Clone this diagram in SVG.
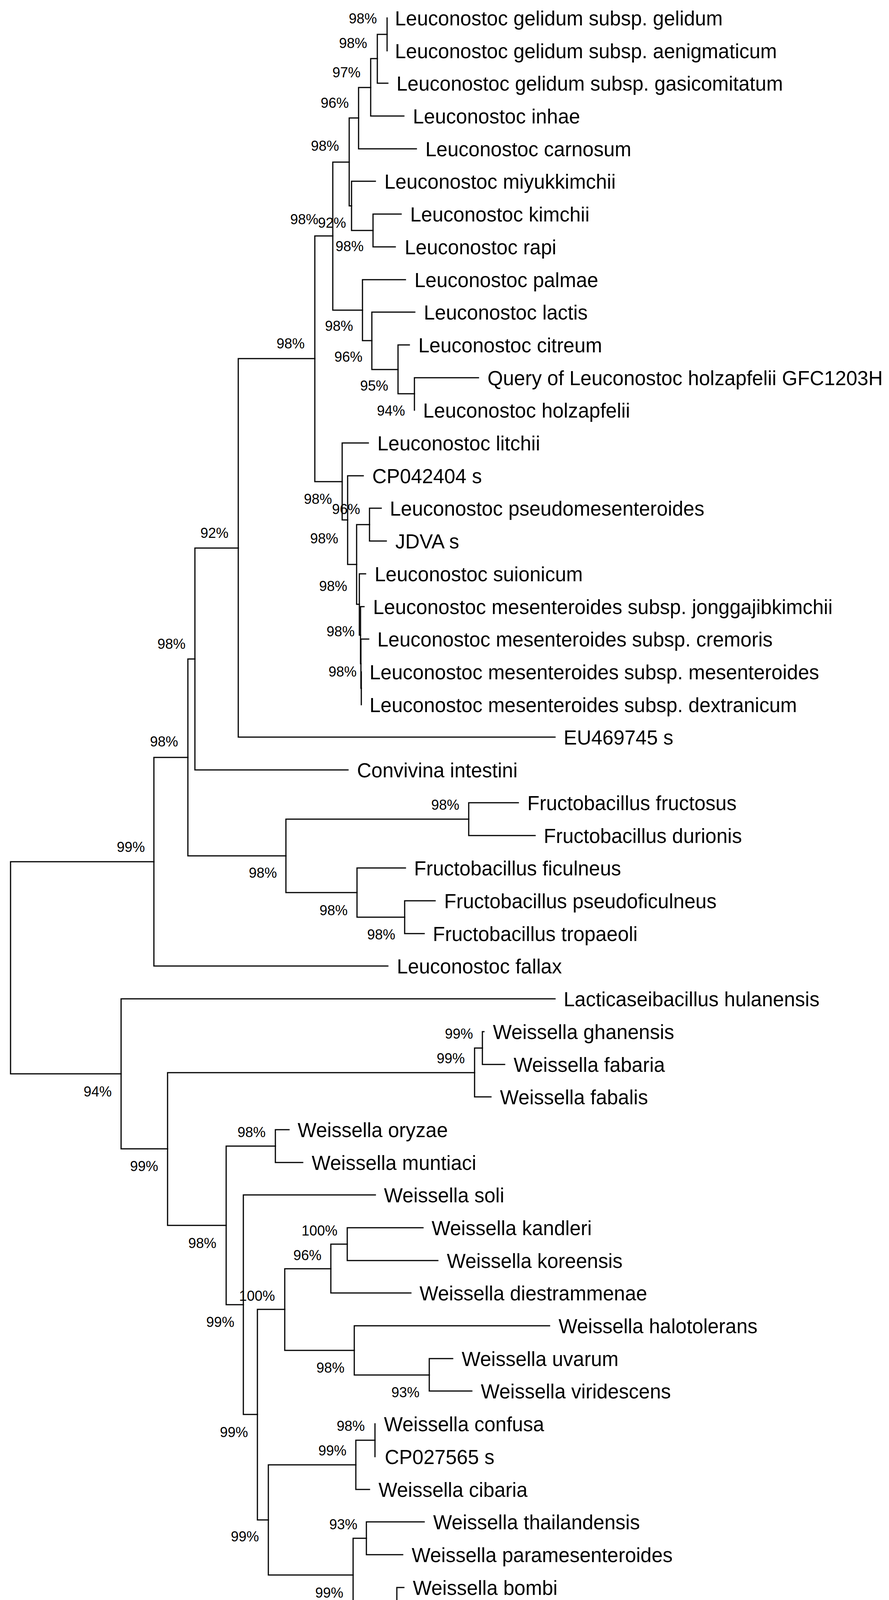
<svg xmlns="http://www.w3.org/2000/svg" width="2276" height="4528" viewBox="0 0 2276 4528">
<style>
.e{fill:none;stroke:#000;stroke-width:3;stroke-linecap:square}
.t{font-family:"Liberation Sans",Arial,sans-serif;font-size:51px;fill:#000}
.b{font-family:"Liberation Sans",Arial,sans-serif;font-size:36px;fill:#000;text-anchor:end}
.s{font-family:"Liberation Sans",Arial,sans-serif;font-size:37px;fill:#000;text-decoration:underline}
</style>
<rect width="2276" height="4528" fill="#fff"/>
<g id="connectors" class="e">
<path d="M991,46 V130"/>
<path d="M991,88 H966 V213 H993"/>
<path d="M966,150 H949 V297 H1034"/>
<path d="M949,224 H918 V381 H1066"/>
<path d="M1027,548 H955 V632 H1012"/>
<path d="M961,464 H900 V590 H955"/>
<path d="M918,302 H894 V527 H900"/>
<path d="M1225,967 H1061 V1050"/>
<path d="M1048,883 H1019 V1008 H1061"/>
<path d="M1062,799 H952 V946 H1019"/>
<path d="M1038,716 H928 V872 H952"/>
<path d="M894,415 H852 V794 H928"/>
<path d="M976,1301 H946 V1385 H989"/>
<path d="M925,1720 V1804"/>
<path d="M944,1636 H924 V1762 H925"/>
<path d="M932,1553 H923 V1699 H924"/>
<path d="M936,1469 H920 V1626 H923"/>
<path d="M946,1343 H913 V1547 H920"/>
<path d="M930,1218 H890 V1445 H913"/>
<path d="M943,1134 H876 V1331 H890"/>
<path d="M852,604 H806 V1233 H876"/>
<path d="M806,918 H610 V1887 H1421"/>
<path d="M610,1403 H499 V1971 H891"/>
<path d="M1327,2055 H1200 V2139 H1370"/>
<path d="M1114,2306 H1036 V2390 H1086"/>
<path d="M1038,2222 H914 V2348 H1036"/>
<path d="M1200,2097 H732 V2285 H914"/>
<path d="M499,1687 H481 V2191 H732"/>
<path d="M481,1939 H394 V2473 H993"/>
<path d="M1239,2641 H1235 V2725 H1292"/>
<path d="M1235,2683 H1215 V2808 H1257"/>
<path d="M740,2892 H705 V2976 H775"/>
<path d="M1083,3143 H889 V3227 H1121"/>
<path d="M889,3185 H847 V3310 H1052"/>
<path d="M1159,3478 H1099 V3561 H1208"/>
<path d="M1407,3394 H907 V3520 H1099"/>
<path d="M847,3248 H729 V3457 H907"/>
<path d="M960,3645 V3729"/>
<path d="M960,3687 H911 V3813 H946"/>
<path d="M1086,3896 H938 V3980 H1031"/>
<path d="M1071,4147 V4231 H1086"/>
<path d="M1034,4064 H1016 V4189 H1071"/>
<path d="M938,3938 H904 V4126 H1016"/>
<path d="M911,3750 H687 V4032 H904"/>
<path d="M729,3352 H659 V3891 H687"/>
<path d="M961,3059 H623 V3621 H659"/>
<path d="M705,2934 H579 V3340 H623"/>
<path d="M1215,2746 H429 V3137 H579"/>
<path d="M1421,2557 H310 V2941 H429"/>
<path d="M394,2206 H27 V2749 H310"/>
</g>
<g id="taxa" class="t">
<text id="n1" x="1011" y="65">Leuconostoc gelidum subsp. gelidum</text>
<text id="n2" x="1011" y="149">Leuconostoc gelidum subsp. aenigmaticum</text>
<text id="n3" x="1015" y="232">Leuconostoc gelidum subsp. gasicomitatum</text>
<text id="n4" x="1057" y="316">Leuconostoc inhae</text>
<text id="n5" x="1089" y="400">Leuconostoc carnosum</text>
<text id="n6" x="984" y="483">Leuconostoc miyukkimchii</text>
<text id="n7" x="1050" y="567">Leuconostoc kimchii</text>
<text id="n8" x="1036" y="651">Leuconostoc rapi</text>
<text id="n9" x="1061" y="735">Leuconostoc palmae</text>
<text id="n10" x="1085" y="818">Leuconostoc lactis</text>
<text id="n11" x="1071" y="902">Leuconostoc citreum</text>
<text id="n12" x="1248" y="986">Query of Leuconostoc holzapfelii GFC1203H</text>
<text id="n13" x="1083" y="1069">Leuconostoc holzapfelii</text>
<text id="n14" x="966" y="1153">Leuconostoc litchii</text>
<text id="n15" x="953" y="1237">CP042404 s</text>
<text id="n16" x="998" y="1320">Leuconostoc pseudomesenteroides</text>
<text id="n17" x="1012" y="1404">JDVA s</text>
<text id="n18" x="959" y="1488">Leuconostoc suionicum</text>
<text id="n19" x="955" y="1572">Leuconostoc mesenteroides subsp. jonggajibkimchii</text>
<text id="n20" x="966" y="1655">Leuconostoc mesenteroides subsp. cremoris</text>
<text id="n21" x="946" y="1739">Leuconostoc mesenteroides subsp. mesenteroides</text>
<text id="n22" x="946" y="1823">Leuconostoc mesenteroides subsp. dextranicum</text>
<text id="n23" x="1443" y="1906">EU469745 s</text>
<text id="n24" x="914" y="1990">Convivina intestini</text>
<text id="n25" x="1350" y="2074">Fructobacillus fructosus</text>
<text id="n26" x="1392" y="2158">Fructobacillus durionis</text>
<text id="n27" x="1060" y="2241">Fructobacillus ficulneus</text>
<text id="n28" x="1137" y="2325">Fructobacillus pseudoficulneus</text>
<text id="n29" x="1108" y="2409">Fructobacillus tropaeoli</text>
<text id="n30" x="1016" y="2492">Leuconostoc fallax</text>
<text id="n31" x="1443" y="2576">Lacticaseibacillus hulanensis</text>
<text id="n32" x="1262" y="2660">Weissella ghanensis</text>
<text id="n33" x="1315" y="2744">Weissella fabaria</text>
<text id="n34" x="1280" y="2827">Weissella fabalis</text>
<text id="n35" x="762" y="2911">Weissella oryzae</text>
<text id="n36" x="798" y="2995">Weissella muntiaci</text>
<text id="n37" x="983" y="3078">Weissella soli</text>
<text id="n38" x="1105" y="3162">Weissella kandleri</text>
<text id="n39" x="1144" y="3246">Weissella koreensis</text>
<text id="n40" x="1074" y="3329">Weissella diestrammenae</text>
<text id="n41" x="1430" y="3413">Weissella halotolerans</text>
<text id="n42" x="1182" y="3497">Weissella uvarum</text>
<text id="n43" x="1231" y="3580">Weissella viridescens</text>
<text id="n44" x="983" y="3664">Weissella confusa</text>
<text id="n45" x="985" y="3748">CP027565 s</text>
<text id="n46" x="969" y="3832">Weissella cibaria</text>
<text id="n47" x="1109" y="3915">Weissella thailandensis</text>
<text id="n48" x="1054" y="3999">Weissella paramesenteroides</text>
<text id="n49" x="1057" y="4083">Weissella bombi</text>
<text id="n50" x="1093" y="4166">Weissella hellenica</text>
<text id="n51" x="1109" y="4250">Weissella sagaensis</text>
</g>
<g id="bootstrap" class="b">
<text x="965" y="60">98%</text>
<text x="940" y="123">98%</text>
<text x="923" y="198">97%</text>
<text x="893" y="276">96%</text>
<text x="868" y="386">98%</text>
<text x="815" y="574">98%</text>
<text x="886" y="583">92%</text>
<text x="931" y="643">98%</text>
<text x="904" y="847">98%</text>
<text x="928" y="926">96%</text>
<text x="994" y="1000">95%</text>
<text x="1037" y="1064">94%</text>
<text x="780" y="892">98%</text>
<text x="850" y="1290">98%</text>
<text x="922" y="1316">96%</text>
<text x="866" y="1391">98%</text>
<text x="889" y="1513">98%</text>
<text x="908" y="1629">98%</text>
<text x="913" y="1732">98%</text>
<text x="585" y="1377">92%</text>
<text x="475" y="1661">98%</text>
<text x="456" y="1911">98%</text>
<text x="371" y="2181">99%</text>
<text x="1176" y="2073">98%</text>
<text x="709" y="2247">98%</text>
<text x="890" y="2343">98%</text>
<text x="1012" y="2405">98%</text>
<text x="286" y="2807">94%</text>
<text x="1211" y="2659">99%</text>
<text x="1190" y="2722">99%</text>
<text x="405" y="2998">99%</text>
<text x="680" y="2911">98%</text>
<text x="554" y="3195">98%</text>
<text x="864" y="3163">100%</text>
<text x="823" y="3226">96%</text>
<text x="704" y="3330">100%</text>
<text x="600" y="3397">99%</text>
<text x="882" y="3514">98%</text>
<text x="1074" y="3577">93%</text>
<text x="635" y="3679">99%</text>
<text x="934" y="3663">98%</text>
<text x="887" y="3726">99%</text>
<text x="663" y="3946">99%</text>
<text x="915" y="3915">93%</text>
<text x="879" y="4090">99%</text>
<text x="991" y="4184">99%</text>
<text x="1046" y="4246">95%</text>
</g>
<g id="scalebar">
<path class="e" d="M97,4383 H422 M97,4371 V4395 M422,4371 V4395"/>
<text class="s" x="213" y="4474">0.020</text>
</g>
</svg>
